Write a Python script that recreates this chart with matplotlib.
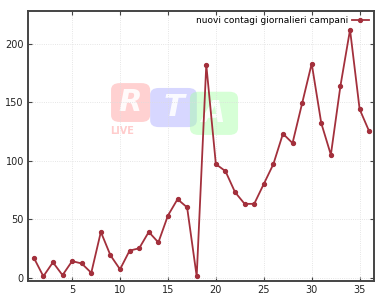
import matplotlib
matplotlib.use("Agg")
import matplotlib.pyplot as plt
from matplotlib.patches import FancyBboxPatch

# nuovi contagi giornalieri in Campania, giorno per giorno
giorni = list(range(1, 37))
contagi = [17, 1, 13, 2, 14, 12, 4, 39, 19, 7,
           23, 25, 39, 30, 53, 67, 60, 1, 182, 97,
           91, 73, 63, 63, 80, 97, 123, 115, 149, 183,
           132, 105, 164, 212, 144, 125]
xticks = [5, 10, 15, 20, 25, 30, 35]
yticks = [0, 50, 100, 150, 200]
label = "nuovi contagi giornalieri campani"

fig = plt.figure(figsize=(3.87, 3.0), dpi=100)
ax = fig.add_axes([0.0724, 0.0633, 0.894, 0.9])

# watermark logo
logo = [(0.24, 0.589, 0.113, 0.144, "#ff9a9a", "R"),
        (0.353, 0.57, 0.135, 0.145, "#a8a8ff", "T"),
        (0.468, 0.541, 0.139, 0.16, "#a6ffa6", "A")]
for x0, y0, w, h, c, t in logo:
    ax.add_patch(FancyBboxPatch((x0, y0), w, h, boxstyle="round,pad=0,rounding_size=0.025",
                                transform=ax.transAxes, facecolor=c, edgecolor="none",
                                alpha=0.45, zorder=0))
    ax.text(x0 + w / 2, y0 + h / 2, t, transform=ax.transAxes, ha="center", va="center",
            fontsize=22, fontweight="bold", fontstyle="italic", color="white", alpha=0.9, zorder=0.5)
ax.text(0.237, 0.555, "LIVE", transform=ax.transAxes, ha="left", va="center",
        fontsize=7, fontweight="bold", color="#ff9a9a", alpha=0.5, zorder=0.5)

ax.plot(giorni, contagi, color="#a3303c", lw=1.3, marker="o", markersize=2.8,
        label=label, zorder=3)

ax.set_xlim(0.4, 36.5)
ax.set_ylim(-3, 228)
ax.set_xticks(xticks)
ax.set_yticks(yticks)
ax.grid(True, color="#dddddd", lw=0.6, ls=":")
ax.tick_params(direction="in", top=True, right=True, labelsize=7, length=3,
               color="#444444", labelcolor="#222222", pad=3)
for s in ax.spines.values():
    s.set_color("#444444")
    s.set_linewidth(1.4)

ax.legend(loc="upper right", frameon=False, fontsize=6.5, markerfirst=False,
          handlelength=1.8, borderaxespad=0.2, handletextpad=0.5)

fig.savefig("out.png", dpi=100)
